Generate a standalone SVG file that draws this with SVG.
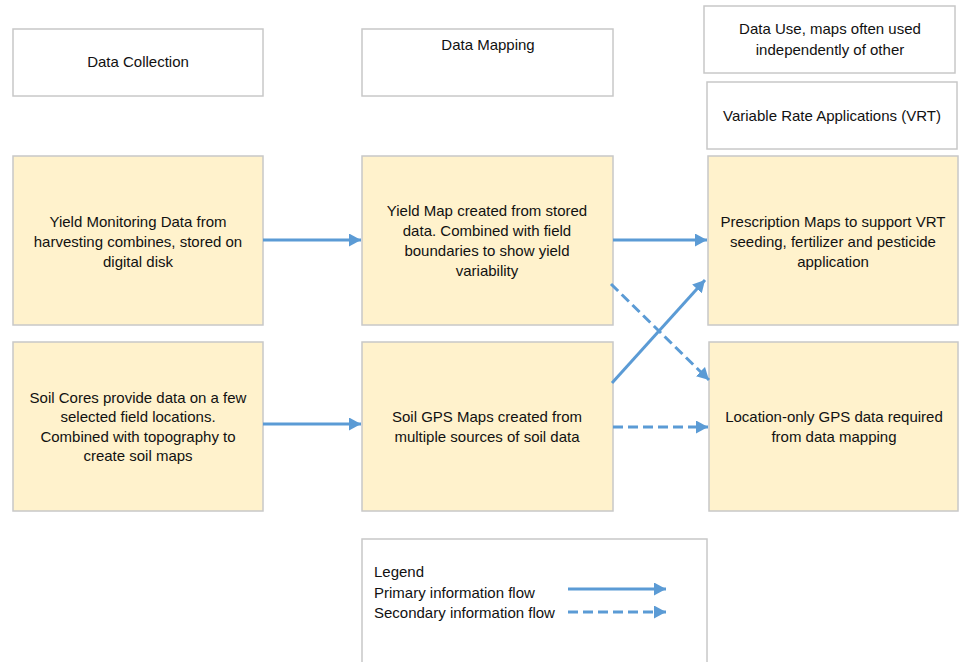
<svg xmlns="http://www.w3.org/2000/svg" width="959" height="662" viewBox="0 0 959 662">
  <style>
    .hdr { fill: #ffffff; stroke: #c8c8c8; stroke-width: 1.5; }
    .box { fill: #fff2cc; stroke: #c8c8c8; stroke-width: 1.5; }
    text { font-family: "Liberation Sans", Arial, sans-serif; font-size: 15px; fill: #111111; }
    .c { text-anchor: middle; }
    .flow { fill: none; stroke: #5b9bd5; stroke-width: 3; }
    .dash { stroke-dasharray: 10 5; }
  </style>
  <defs>
    <marker id="head" markerUnits="userSpaceOnUse" markerWidth="13" markerHeight="13" refX="12" refY="6.5" orient="auto">
      <path d="M0,0 L12,6.5 L0,13 Z" fill="#5b9bd5"/>
    </marker>
  </defs>

  <rect width="959" height="662" fill="#ffffff"/>

  <!-- column headings -->
  <g id="hdr-collection">
    <rect class="hdr" x="13" y="29" width="250" height="67"/>
    <text class="c" x="138" y="67">Data Collection</text>
  </g>
  <g id="hdr-mapping">
    <rect class="hdr" x="362" y="29" width="251" height="67"/>
    <text class="c" x="488" y="50">Data Mapping</text>
  </g>
  <g id="hdr-use">
    <rect class="hdr" x="704" y="6" width="251" height="67"/>
    <text class="c" x="830" y="34">Data Use, maps often used</text>
    <text class="c" x="830" y="55">independently of other</text>
  </g>
  <g id="hdr-vrt">
    <rect class="hdr" x="707" y="82" width="250" height="67"/>
    <text class="c" x="832" y="121">Variable Rate Applications (VRT)</text>
  </g>

  <!-- process nodes -->
  <g id="yield-monitoring">
    <rect class="box" x="13" y="156" width="250" height="169"/>
    <text class="c" x="138" y="227">Yield Monitoring Data from</text>
    <text class="c" x="138" y="247">harvesting combines, stored on</text>
    <text class="c" x="138" y="267">digital disk</text>
  </g>
  <g id="yield-map">
    <rect class="box" x="362" y="156" width="251" height="169"/>
    <text class="c" x="487" y="216">Yield Map created from stored</text>
    <text class="c" x="487" y="236">data. Combined with field</text>
    <text class="c" x="487" y="256">boundaries to show yield</text>
    <text class="c" x="487" y="276">variability</text>
  </g>
  <g id="prescription-maps">
    <rect class="box" x="708" y="156" width="250" height="169"/>
    <text class="c" x="833" y="227">Prescription Maps to support VRT</text>
    <text class="c" x="833" y="247">seeding, fertilizer and pesticide</text>
    <text class="c" x="833" y="267">application</text>
  </g>
  <g id="soil-cores">
    <rect class="box" x="13" y="342" width="250" height="169"/>
    <text class="c" x="138" y="403">Soil Cores provide data on a few</text>
    <text class="c" x="138" y="422">selected field locations.</text>
    <text class="c" x="138" y="442">Combined with topography to</text>
    <text class="c" x="138" y="461">create soil maps</text>
  </g>
  <g id="soil-gps">
    <rect class="box" x="362" y="342" width="251" height="169"/>
    <text class="c" x="487" y="422">Soil GPS Maps created from</text>
    <text class="c" x="487" y="442">multiple sources of soil data</text>
  </g>
  <g id="location-gps">
    <rect class="box" x="709" y="342" width="249" height="169"/>
    <text class="c" x="834" y="422">Location-only GPS data required</text>
    <text class="c" x="834" y="442">from data mapping</text>
  </g>

  <!-- legend -->
  <g id="legend">
    <rect class="hdr" x="362" y="539" width="345" height="130"/>
    <text x="374" y="577">Legend</text>
    <text x="374" y="598">Primary information flow</text>
    <text x="374" y="618">Secondary information flow</text>
    <line class="flow" x1="568" y1="589" x2="666" y2="589" marker-end="url(#head)"/>
    <line class="flow dash" x1="568" y1="612" x2="666" y2="612" marker-end="url(#head)"/>
  </g>

  <!-- connectors -->
  <g id="connectors">
    <line class="flow" x1="263" y1="240" x2="361" y2="240" marker-end="url(#head)"/>
    <line class="flow" x1="263" y1="424" x2="361" y2="424" marker-end="url(#head)"/>
    <line class="flow" x1="613" y1="240" x2="707" y2="240" marker-end="url(#head)"/>
    <line class="flow" x1="612" y1="383" x2="705" y2="280" marker-end="url(#head)"/>
    <line class="flow dash" x1="611" y1="284" x2="709" y2="380" marker-end="url(#head)"/>
    <line class="flow dash" x1="613" y1="427" x2="708" y2="427" marker-end="url(#head)"/>
  </g>
</svg>
